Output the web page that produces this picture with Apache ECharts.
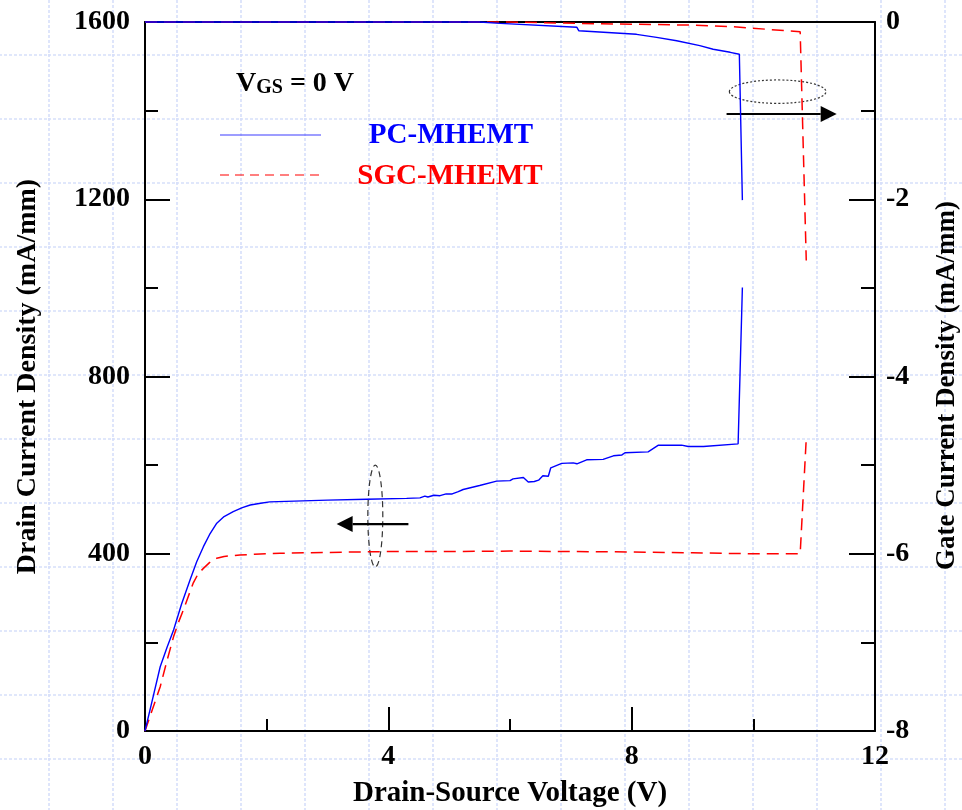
<!DOCTYPE html>
<html>
<head>
<meta charset="utf-8">
<script src="https://cdn.jsdelivr.net/npm/echarts@6/dist/echarts.min.js"></script>
<style>
  html, body { margin: 0; padding: 0; width: 962px; height: 810px; overflow: hidden; }
  body {
    background-color: #fff;
    background-image: url("data:image/svg+xml,%3Csvg xmlns='http://www.w3.org/2000/svg' width='64' height='64'%3E%3Cpath d='M1 0V64M0 1H64' stroke='%23d6dffa' stroke-width='1.6' stroke-dasharray='3 2' fill='none'/%3E%3C/svg%3E");
    background-size: 64px 64px;
    background-position: 48px 54px;
  }
  #chart { width: 962px; height: 810px; }
</style>
</head>
<body>
<div id="chart"></div>
<script>
// Axis ranges and tick labels
const voltageTicks = [0, 4, 8, 12];
const drainTicks = [0, 400, 800, 1200, 1600];
const gateTicks = [-8, -6, -4, -2, 0];

// PC-MHEMT drain current density (mA/mm) vs drain-source voltage (V)
const pcDrainV = [0, 0.1, 0.25, 0.36, 0.47, 0.6, 0.74, 0.85, 0.96, 1.06, 1.18, 1.3, 1.45, 1.6, 1.73, 1.9, 2.05, 3.0, 3.64,
  4.3, 4.52, 4.6, 4.65, 4.75, 4.85, 4.95, 5.05, 5.15, 5.23, 5.5, 5.78, 6.0, 6.05, 6.22, 6.30, 6.40, 6.47, 6.54,
  6.63, 6.67, 6.85, 7.04, 7.10, 7.26, 7.53, 7.70, 7.84, 7.89, 8.27, 8.44, 8.82, 8.93, 9.18, 9.75, 9.82];
const pcDrainI = [0, 58, 145, 188, 228, 286, 341, 382, 416, 443, 469, 484, 495, 504, 510, 514, 517, 521, 523,
  525, 526, 530, 528, 532, 531, 535, 535, 540, 545, 554, 564, 565, 569, 572, 562, 563, 566, 576,
  575, 594, 604, 605, 603, 612, 613, 621, 623, 628, 630, 645, 645, 642, 642, 648, 1001];

// SGC-MHEMT drain current density (mA/mm)
const sgcDrainV = [0, 0.1, 0.25, 0.36, 0.47, 0.55, 0.63, 0.71, 0.79, 0.87, 0.96, 1.06, 1.18, 1.3, 1.56, 1.8, 2.22,
  3.0, 4.0, 5.0, 6.0, 7.0, 8.0, 9.0, 10.0, 10.77, 10.87];
const sgcDrainI = [0, 40, 100, 158, 213, 245, 273, 303, 333, 354, 367, 380, 390, 394, 397, 399, 401,
  403, 405, 405, 406, 405, 404, 402, 400, 400, 660];

// PC-MHEMT gate current density (mA/mm)
const pcGateV = [0, 5.5, 5.84, 7.10, 7.13, 8.08, 8.41, 8.74, 9.12, 9.34, 9.62, 9.77, 9.82];
const pcGateI = [0, 0, -0.015, -0.06, -0.098, -0.139, -0.173, -0.211, -0.267, -0.308, -0.342, -0.364, -2.01];

// SGC-MHEMT gate current density (mA/mm)
const sgcGateV = [0, 6.0, 7.48, 8.9, 9.67, 10.22, 10.77, 10.87];
const sgcGateI = [0, 0, -0.02, -0.034, -0.053, -0.082, -0.109, -2.69];

const seriesNames = ['PC-MHEMT', 'SGC-MHEMT'];

const zip = (xs, ys) => xs.map((x, i) => [x, ys[i]]);
const plain = (v) => String(v);

const FONT = '"Liberation Serif", "Times New Roman", Times, serif';
const BLUE = '#0000ff';
const RED = '#ff0000';

const chart = echarts.init(document.getElementById('chart'), null, { renderer: 'canvas' });

const axisLineStyle = { color: '#000', width: 2 };
const labelStyle = { fontFamily: FONT, fontWeight: 'bold', fontSize: 28, color: '#000', formatter: plain };
const nameStyle = { fontFamily: FONT, fontWeight: 'bold', fontSize: 28, color: '#000' };

const option = {
  animation: false,
  backgroundColor: 'transparent',
  textStyle: { fontFamily: FONT },
  grid: { left: 145, right: 87, top: 22, bottom: 79, containLabel: false, outerBoundsMode: 'none' },
  xAxis: [
    {
      type: 'value',
      min: voltageTicks[0],
      max: voltageTicks[voltageTicks.length - 1],
      interval: voltageTicks[1] - voltageTicks[0],
      name: 'Drain-Source Voltage (V)',
      nameLocation: 'middle',
      nameGap: 48,
      nameTextStyle: Object.assign({}, nameStyle, { fontSize: 29 }),
      axisLine: { onZero: false, lineStyle: axisLineStyle },
      axisTick: { inside: true, length: 24, lineStyle: axisLineStyle },
      minorTick: { show: true, splitNumber: 2, length: 12, lineStyle: axisLineStyle },
      axisLabel: Object.assign({}, labelStyle, { margin: 12, showMinLabel: true, showMaxLabel: true }),
      splitLine: { show: false }
    },
    {
      type: 'value',
      position: 'top',
      min: voltageTicks[0],
      max: voltageTicks[voltageTicks.length - 1],
      axisLine: { show: true, onZero: false, lineStyle: axisLineStyle },
      axisTick: { show: false },
      axisLabel: { show: false },
      splitLine: { show: false }
    }
  ],
  yAxis: [
    {
      type: 'value',
      position: 'left',
      min: drainTicks[0],
      max: drainTicks[drainTicks.length - 1],
      interval: drainTicks[1] - drainTicks[0],
      name: 'Drain Current Density (mA/mm)',
      nameLocation: 'middle',
      nameRotate: 90,
      nameGap: 103,
      nameTextStyle: nameStyle,
      axisLine: { show: true, onZero: false, lineStyle: axisLineStyle },
      axisTick: { inside: true, length: 25, lineStyle: axisLineStyle },
      minorTick: { show: true, splitNumber: 2, length: 13, lineStyle: axisLineStyle },
      axisLabel: Object.assign({}, labelStyle, { margin: 15, showMinLabel: true, showMaxLabel: true }),
      splitLine: { show: false }
    },
    {
      type: 'value',
      position: 'right',
      min: gateTicks[0],
      max: gateTicks[gateTicks.length - 1],
      interval: gateTicks[1] - gateTicks[0],
      name: 'Gate Current Density (mA/mm)',
      nameLocation: 'middle',
      nameRotate: 90,
      nameGap: 59,
      nameTextStyle: Object.assign({}, nameStyle, { fontSize: 27, padding: [0, 18, 0, 0] }),
      axisLine: { show: true, onZero: false, lineStyle: axisLineStyle },
      axisTick: { inside: true, length: 26, lineStyle: axisLineStyle },
      minorTick: { show: true, splitNumber: 2, length: 14, lineStyle: axisLineStyle },
      axisLabel: Object.assign({}, labelStyle, { margin: 11, showMinLabel: true, showMaxLabel: true }),
      splitLine: { show: false }
    }
  ],
  series: [
    {
      name: seriesNames[1], type: 'line', xAxisIndex: 0, yAxisIndex: 0,
      data: zip(sgcDrainV, sgcDrainI), showSymbol: false, clip: false,
      lineStyle: { color: RED, width: 1.5, type: [12, 7] }
    },
    {
      name: seriesNames[1], type: 'line', xAxisIndex: 0, yAxisIndex: 1,
      data: zip(sgcGateV, sgcGateI), showSymbol: false, clip: false,
      lineStyle: { color: RED, width: 1.5, type: [12, 7] }
    },
    {
      name: seriesNames[0], type: 'line', xAxisIndex: 0, yAxisIndex: 0,
      data: zip(pcDrainV, pcDrainI), showSymbol: false, clip: false,
      lineStyle: { color: BLUE, width: 1.4 }
    },
    {
      name: seriesNames[0], type: 'line', xAxisIndex: 0, yAxisIndex: 1,
      data: zip(pcGateV, pcGateI), showSymbol: false, clip: false,
      lineStyle: { color: BLUE, width: 1.4 }
    }
  ]
};

chart.setOption(option);

// Annotation marks: the ellipse + arrow groups showing which axis each curve set uses
const toDrain = (p) => chart.convertToPixel({ xAxisIndex: 0, yAxisIndex: 0 }, p);
const toGate = (p) => chart.convertToPixel({ xAxisIndex: 0, yAxisIndex: 1 }, p);

function arrow(from, to, head, half) {
  const dx = to[0] - from[0], dy = to[1] - from[1];
  const len = Math.hypot(dx, dy);
  const ux = dx / len, uy = dy / len;
  const bx = to[0] - ux * head, by = to[1] - uy * head;
  return [
    { type: 'line', silent: true, shape: { x1: from[0], y1: from[1], x2: bx, y2: by },
      style: { stroke: '#000', lineWidth: 2.2 } },
    { type: 'polygon', silent: true,
      shape: { points: [to, [bx - uy * half, by + ux * half], [bx + uy * half, by - ux * half]] },
      style: { fill: '#000' } }
  ];
}

function ellipse(center, edgeX, edgeY, dash) {
  return { type: 'ellipse', silent: true,
    shape: { cx: center[0], cy: center[1], rx: Math.abs(edgeX[0] - center[0]), ry: Math.abs(edgeY[1] - center[1]) },
    style: { fill: 'none', stroke: '#333', lineWidth: 1.2, lineDash: dash } };
}

// Drain-current group (left axis)
const lc = toDrain([3.786, 485]);
const lex = toDrain([3.786 + 0.123, 485]);
const ley = toDrain([3.786, 485 + 115]);
// Gate-current group (right axis)
const rc = toGate([10.40, -0.786]);
const rex = toGate([10.40 + 0.794, -0.786]);
const rey = toGate([10.40, -0.786 + 0.132]);

const graphics = [
  ellipse(lc, lex, ley, [6, 4]),
  ...arrow(toDrain([4.33, 467]), toDrain([3.15, 467]), 16, 8),
  ellipse(rc, rex, rey, [2, 2]),
  ...arrow(toGate([9.56, -1.038]), toGate([11.37, -1.038]), 16, 8),
  // Bias condition
  { type: 'text', silent: true, left: 236, top: 70,
    style: {
      text: '{v|V}{s|GS}{v| = 0 V}',
      rich: {
        v: { fontFamily: FONT, fontWeight: 'bold', fontSize: 28, fill: '#000', lineHeight: 28 },
        s: { fontFamily: FONT, fontWeight: 'bold', fontSize: 20, fill: '#000', verticalAlign: 'bottom', lineHeight: 20 }
      }
    } },
  // Legend
  { type: 'line', silent: true, shape: { x1: 220, y1: 135, x2: 321, y2: 135 },
    style: { stroke: '#3c3cff', lineWidth: 1.2 } },
  { type: 'text', silent: true, x: 451, y: 136,
    style: { text: seriesNames[0], fill: BLUE, font: 'bold 29px ' + FONT, align: 'center', verticalAlign: 'middle' } },
  { type: 'line', silent: true, shape: { x1: 220, y1: 175, x2: 321, y2: 175 },
    style: { stroke: RED, lineWidth: 1.2, lineDash: [9, 6] } },
  { type: 'text', silent: true, x: 450, y: 177,
    style: { text: seriesNames[1], fill: RED, font: 'bold 29px ' + FONT, align: 'center', verticalAlign: 'middle' } }
];

chart.setOption({ graphic: graphics });
</script>
</body>
</html>
